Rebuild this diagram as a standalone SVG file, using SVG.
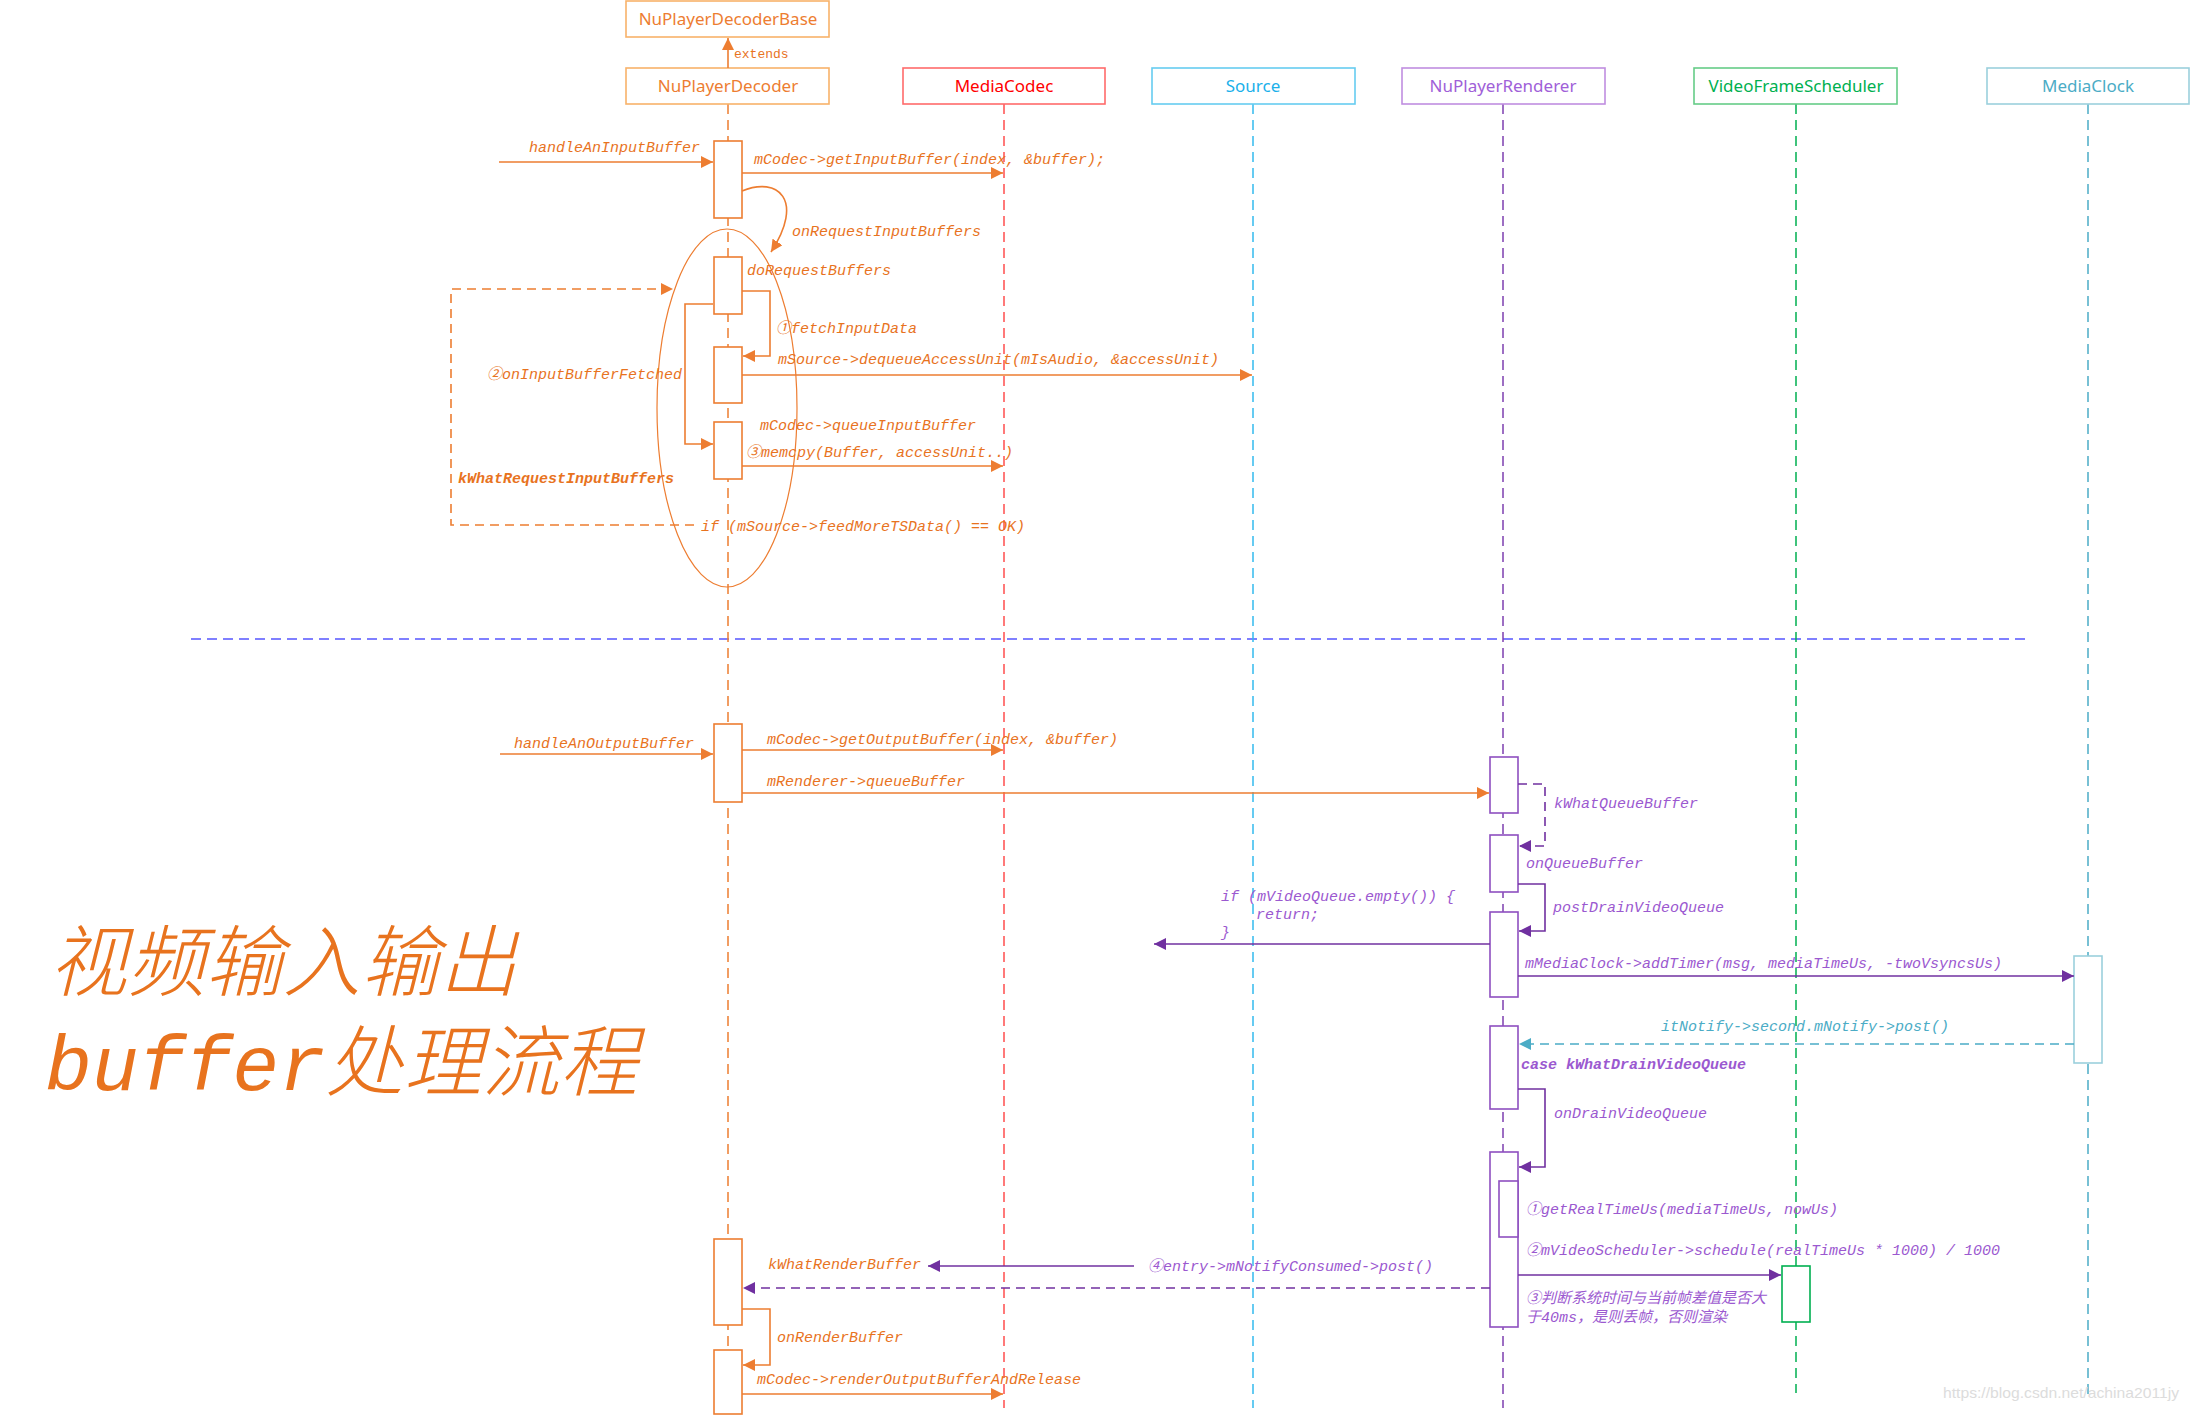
<svg xmlns="http://www.w3.org/2000/svg" width="2192" height="1416" viewBox="0 0 2192 1416">
<style>
.hdr{fill:#fff;stroke-width:1.6}
.ht{font-family:"Noto Sans","Open Sans",sans-serif;font-size:17px;text-anchor:middle}
.ll{fill:none;stroke-width:1.5;stroke-dasharray:10,6}
.act{fill:#fff;stroke-width:1.6}
.lbl{font-family:"Liberation Mono","DejaVu Sans Mono","Noto Sans CJK SC",monospace;font-size:15px;font-style:italic}
.o{fill:#e8731e}
.p{fill:#9b59d0}
.t{fill:#4bacc6}
.b{font-weight:bold}
.lo{stroke:#ed7d31;stroke-width:1.6;fill:none}
.lp{stroke:#7030a0;stroke-width:1.6;fill:none}
.lt{stroke:#4bacc6;stroke-width:1.6;fill:none}
.dash{stroke-dasharray:9,6}
</style>
<defs>
<marker id="ao" markerUnits="userSpaceOnUse" markerWidth="14" markerHeight="12" refX="12" refY="6" orient="auto"><path d="M0,0 L12,6 L0,12 z" fill="#ed7d31"/></marker>
<marker id="ap" markerUnits="userSpaceOnUse" markerWidth="14" markerHeight="12" refX="12" refY="6" orient="auto"><path d="M0,0 L12,6 L0,12 z" fill="#7030a0"/></marker>
<marker id="at" markerUnits="userSpaceOnUse" markerWidth="14" markerHeight="12" refX="12" refY="6" orient="auto"><path d="M0,0 L12,6 L0,12 z" fill="#4bacc6"/></marker>
</defs>
<rect width="2192" height="1416" fill="#fff"/>

<!-- separator -->
<line x1="191" y1="639" x2="2030" y2="639" stroke="#7f7fff" stroke-width="2" stroke-dasharray="10,6"/>

<!-- nodes -->
<g id="NuPlayerDecoderBase">
<rect class="hdr" x="626" y="1" width="203" height="36" stroke="#f8b26a"/>
<text class="ht" x="728" y="25" fill="#ed7d31">NuPlayerDecoderBase</text>
</g>
<g id="NuPlayerDecoder">
<line class="ll" x1="728" y1="104" x2="728" y2="1412" stroke="#ed7d31"/>
<rect class="hdr" x="626" y="68" width="203" height="36" stroke="#f8b26a"/>
<text class="ht" x="728" y="92" fill="#ed7d31">NuPlayerDecoder</text>
<ellipse cx="727" cy="408" rx="70" ry="179" fill="none" stroke="#ed7d31" stroke-width="1.2"/>
<rect class="act" x="714" y="141" width="28" height="77" stroke="#ed7d31"/>
<rect class="act" x="714" y="257" width="28" height="57" stroke="#ed7d31"/>
<rect class="act" x="714" y="347" width="28" height="56" stroke="#ed7d31"/>
<rect class="act" x="714" y="422" width="28" height="57" stroke="#ed7d31"/>
<rect class="act" x="714" y="724" width="28" height="78" stroke="#ed7d31"/>
<rect class="act" x="714" y="1239" width="28" height="86" stroke="#ed7d31"/>
<rect class="act" x="714" y="1350" width="28" height="64" stroke="#ed7d31"/>
</g>
<g id="MediaCodec">
<line class="ll" x1="1004" y1="104" x2="1004" y2="1408" stroke="#ff4d4d"/>
<rect class="hdr" x="903" y="68" width="202" height="36" stroke="#ff6b6b"/>
<text class="ht" x="1004" y="92" fill="#ff0000">MediaCodec</text>
</g>
<g id="Source">
<line class="ll" x1="1253" y1="104" x2="1253" y2="1408" stroke="#33bbee"/>
<rect class="hdr" x="1152" y="68" width="203" height="36" stroke="#66ccf0"/>
<text class="ht" x="1253" y="92" fill="#1ab0ea">Source</text>
</g>
<g id="NuPlayerRenderer">
<line class="ll" x1="1503" y1="104" x2="1503" y2="1408" stroke="#7e3fb0"/>
<rect class="hdr" x="1402" y="68" width="203" height="36" stroke="#c08ee0"/>
<text class="ht" x="1503" y="92" fill="#a060d8">NuPlayerRenderer</text>
<rect class="act" x="1490" y="757" width="28" height="56" stroke="#8e4fc0"/>
<rect class="act" x="1490" y="835" width="28" height="57" stroke="#8e4fc0"/>
<rect class="act" x="1490" y="912" width="28" height="85" stroke="#8e4fc0"/>
<rect class="act" x="1490" y="1026" width="28" height="83" stroke="#8e4fc0"/>
<rect class="act" x="1490" y="1152" width="28" height="175" stroke="#8e4fc0"/>
<rect class="act" x="1499" y="1181" width="19" height="56" stroke="#8e4fc0"/>
</g>
<g id="VideoFrameScheduler">
<line class="ll" x1="1796" y1="104" x2="1796" y2="1393" stroke="#00b050"/>
<rect class="hdr" x="1694" y="68" width="203" height="36" stroke="#66cc88"/>
<text class="ht" x="1796" y="92" fill="#00b050">VideoFrameScheduler</text>
<rect class="act" x="1782" y="1266" width="28" height="56" stroke="#00b050"/>
</g>
<g id="MediaClock">
<line class="ll" x1="2088" y1="104" x2="2088" y2="1395" stroke="#4bacc6"/>
<rect class="hdr" x="1987" y="68" width="202" height="36" stroke="#9bd0dd"/>
<text class="ht" x="2088" y="92" fill="#4bacc6">MediaClock</text>
<rect class="act" x="2074" y="956" width="28" height="107" stroke="#9bd0dd"/>
</g>

<!-- connectors -->
<g id="connectors">
<line class="lo" x1="728" y1="68" x2="728" y2="38" marker-end="url(#ao)"/>
<line class="lo" x1="499" y1="162" x2="713" y2="162" marker-end="url(#ao)"/>
<line class="lo" x1="742" y1="173" x2="1003" y2="173" marker-end="url(#ao)"/>
<path class="lo" stroke-width="1.2" d="M742,191 C778,176 805,200 771,252" marker-end="url(#ao)"/>
<polyline class="lo" points="742,291 770,291 770,356 743,356" marker-end="url(#ao)"/>
<line class="lo" x1="742" y1="375" x2="1252" y2="375" marker-end="url(#ao)"/>
<polyline class="lo" points="713,304 685,304 685,444 713,444" marker-end="url(#ao)"/>
<line class="lo" x1="742" y1="466" x2="1003" y2="466" marker-end="url(#ao)"/>
<path class="lo dash" d="M694,525 L451,525 L451,289 L673,289" marker-end="url(#ao)"/>
<line class="lo" x1="500" y1="754" x2="713" y2="754" marker-end="url(#ao)"/>
<line class="lo" x1="742" y1="750" x2="1003" y2="750" marker-end="url(#ao)"/>
<line class="lo" x1="742" y1="793" x2="1489" y2="793" marker-end="url(#ao)"/>
<polyline class="lp dash" points="1518,784 1545,784 1545,846 1519,846" marker-end="url(#ap)"/>
<polyline class="lp" points="1518,884 1545,884 1545,931 1519,931" marker-end="url(#ap)"/>
<line class="lp" x1="1490" y1="944" x2="1154" y2="944" marker-end="url(#ap)"/>
<line class="lp" x1="1518" y1="976" x2="2074" y2="976" marker-end="url(#ap)"/>
<line class="lt dash" x1="2074" y1="1044" x2="1519" y2="1044" marker-end="url(#at)"/>
<polyline class="lp" points="1518,1089 1545,1089 1545,1167 1519,1167" marker-end="url(#ap)"/>
<line class="lp" x1="1518" y1="1275" x2="1781" y2="1275" marker-end="url(#ap)"/>
<line class="lp" x1="1134" y1="1266" x2="928" y2="1266" marker-end="url(#ap)"/>
<line class="lp dash" x1="1490" y1="1288" x2="743" y2="1288" marker-end="url(#ap)"/>
<polyline class="lo" points="742,1309 770,1309 770,1365 743,1365" marker-end="url(#ao)"/>
<line class="lo" x1="742" y1="1394" x2="1003" y2="1394" marker-end="url(#ao)"/>
</g>

<!-- labels -->
<g id="labels">
<text x="734" y="58" font-family="Liberation Mono,monospace" font-size="13" fill="#e8731e">extends</text>
<text class="lbl o" x="529" y="152">handleAnInputBuffer</text>
<text class="lbl o" x="754" y="164">mCodec-&gt;getInputBuffer(index, &amp;buffer);</text>
<text class="lbl o" x="792" y="236">onRequestInputBuffers</text>
<text class="lbl o" x="747" y="275">doRequestBuffers</text>
<text class="lbl o" x="776" y="333">①fetchInputData</text>
<text class="lbl o" x="778" y="364">mSource-&gt;dequeueAccessUnit(mIsAudio, &amp;accessUnit)</text>
<text class="lbl o" x="487" y="379">②onInputBufferFetched</text>
<text class="lbl o" x="760" y="430">mCodec-&gt;queueInputBuffer</text>
<text class="lbl o" x="746" y="457">③memcpy(Buffer, accessUnit..)</text>
<text class="lbl o b" x="458" y="483">kWhatRequestInputBuffers</text>
<text class="lbl o" x="701" y="531">if (mSource-&gt;feedMoreTSData() == OK)</text>
<text class="lbl o" x="514" y="748">handleAnOutputBuffer</text>
<text class="lbl o" x="767" y="744">mCodec-&gt;getOutputBuffer(index, &amp;buffer)</text>
<text class="lbl o" x="767" y="786">mRenderer-&gt;queueBuffer</text>
<text class="lbl p" x="1554" y="808">kWhatQueueBuffer</text>
<text class="lbl p" x="1526" y="868">onQueueBuffer</text>
<text class="lbl p" x="1553" y="912">postDrainVideoQueue</text>
<text class="lbl p" x="1221" y="901">if (mVideoQueue.empty()) {</text>
<text class="lbl p" x="1256" y="919">return;</text>
<text class="lbl p" x="1221" y="937">}</text>
<text class="lbl p" x="1525" y="968">mMediaClock-&gt;addTimer(msg, mediaTimeUs, -twoVsyncsUs)</text>
<text class="lbl t" x="1661" y="1031">itNotify-&gt;second.mNotify-&gt;post()</text>
<text class="lbl p b" x="1521" y="1069">case kWhatDrainVideoQueue</text>
<text class="lbl p" x="1554" y="1118">onDrainVideoQueue</text>
<text class="lbl p" x="1526" y="1214">①getRealTimeUs(mediaTimeUs, nowUs)</text>
<text class="lbl p" x="1526" y="1255">②mVideoScheduler-&gt;schedule(realTimeUs * 1000) / 1000</text>
<text class="lbl p" x="1526" y="1303">③判断系统时间与当前帧差值是否大</text>
<text class="lbl p" x="1526" y="1322">于40ms，是则丢帧，否则渲染</text>
<text class="lbl p" x="1148" y="1271">④entry-&gt;mNotifyConsumed-&gt;post()</text>
<text class="lbl o" x="768" y="1269">kWhatRenderBuffer</text>
<text class="lbl o" x="777" y="1342">onRenderBuffer</text>
<text class="lbl o" x="757" y="1384">mCodec-&gt;renderOutputBufferAndRelease</text>
</g>

<!-- title -->
<g id="title" fill="#e8731e" font-style="italic" font-size="78">
<text x="49" y="990" font-family="Noto Sans CJK SC,sans-serif" font-weight="300">视频输入输出</text>
<text x="45" y="1090"><tspan font-family="Liberation Mono,monospace">buffer</tspan><tspan font-family="Noto Sans CJK SC,sans-serif" font-weight="300">处理流程</tspan></text>
</g>

<text x="1943" y="1398" font-family="Liberation Sans,Arial,sans-serif" font-size="15" textLength="236" lengthAdjust="spacingAndGlyphs" fill="#dcdcdc">https://blog.csdn.net/achina2011jy</text>
</svg>
